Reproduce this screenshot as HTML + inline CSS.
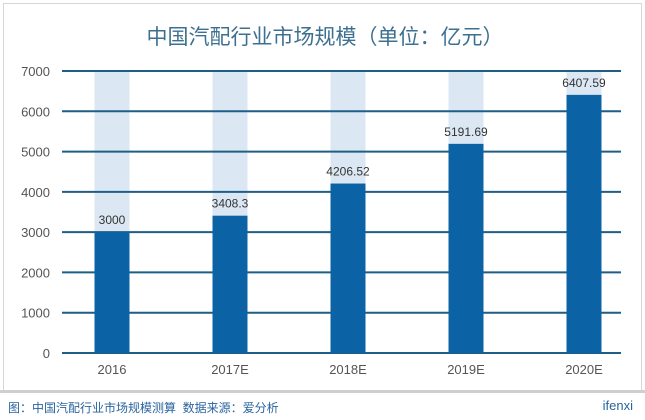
<!DOCTYPE html>
<html><head><meta charset="utf-8"><style>
html,body{margin:0;padding:0;background:#fff;}
body{width:645px;height:420px;position:relative;overflow:hidden;font-family:"Liberation Sans","Noto Sans CJK SC",sans-serif;}
#card{position:absolute;left:3px;top:3px;width:637px;height:386px;border:1px solid #d6d6d6;}
#sep{position:absolute;left:0;top:390px;width:645px;height:3px;background:#cfcfcf;}
#foot{position:absolute;left:8px;top:399px;font-size:12px;color:#2a64a0;}
#logo{position:absolute;right:12px;top:398px;font-size:13px;color:#2a64a0;}
</style></head><body>
<div id="card"></div>
<svg width="645" height="420" style="position:absolute;left:0;top:0" id="chart">
<text x="325" y="44" text-anchor="middle" font-size="21" fill="#3d7090" font-family="Liberation Sans,Noto Sans CJK SC,sans-serif">中国汽配行业市场规模（单位：亿元）</text>
</svg>
<div id="sep"></div>
<div id="foot">图：中国汽配行业市场规模测算&nbsp;&nbsp;数据来源：爱分析</div>
<div id="logo">ifenxi</div>
<script>
const categories=["2016","2017E","2018E","2019E","2020E"];
const values=[3000,3408.3,4206.52,5191.69,6407.59];
const valueLabels=["3000","3408.3","4206.52","5191.69","6407.59"];
const ticks=[0,1000,2000,3000,4000,5000,6000,7000];
const yMax=7000;
const svg=document.getElementById('chart');
const NS='http://www.w3.org/2000/svg';
const y0=353,y1=71,xL=62,xR=621;
function y(v){return y0-(v/yMax)*(y0-y1);}
function xc(i){return 112+i*(584-112)/4;}
const bw=35;
function mk(t,a){const e=document.createElementNS(NS,t);for(const k in a)e.setAttribute(k,a[k]);svg.appendChild(e);return e;}
categories.forEach((c,i)=>{
  const bg=mk('rect',{x:xc(i)-bw/2,y:y(yMax),width:bw,height:y(0)-y(yMax),fill:'#dbe7f2'});
  
  
});
ticks.forEach(t=>{
  const l=mk('line',{x1:xL,x2:xR,y1:y(t),y2:y(t),stroke:'#1f5e86','stroke-width':2});
  
  
  const tx=mk('text',{x:50,y:y(t)+5,'text-anchor':'end','font-size':13,fill:'#555'});
  tx.textContent=t;
  
  
});
categories.forEach((c,i)=>{
  const b=mk('rect',{x:xc(i)-bw/2,y:y(values[i]),width:bw,height:y(0)-y(values[i]),fill:'#0b63a5'});
  
  
  const v=mk('text',{x:xc(i),y:y(values[i])-8,'text-anchor':'middle','font-size':12,fill:'#333'});
  v.textContent=valueLabels[i];
  
  
  const cl=mk('text',{x:xc(i),y:374,'text-anchor':'middle','font-size':13,fill:'#555'});
  cl.textContent=c;
  
  
});
</script>
</body></html>
